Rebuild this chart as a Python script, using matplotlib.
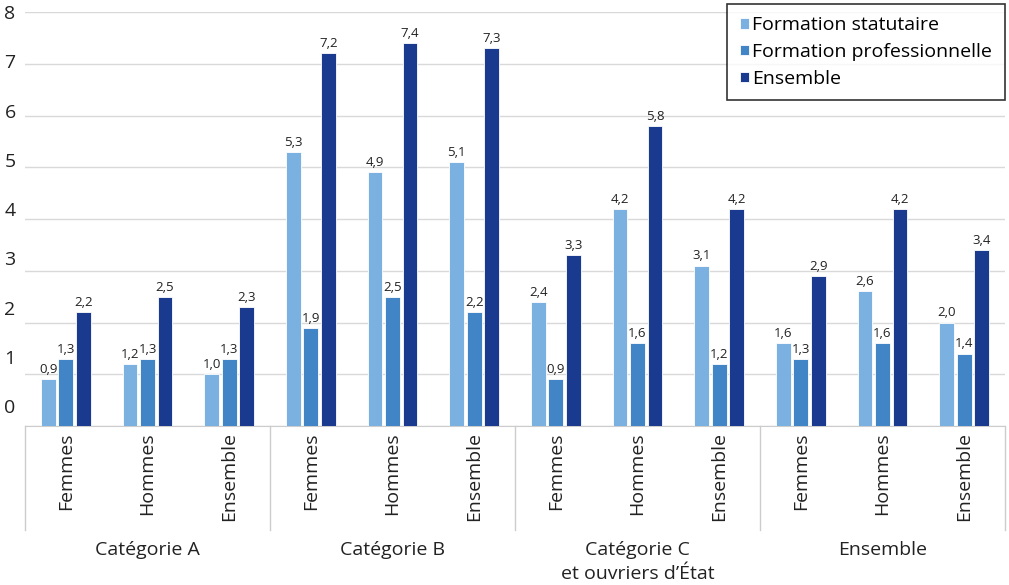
import matplotlib
matplotlib.use("Agg")
import matplotlib.pyplot as plt
import numpy as np

plt.rcParams['font.family'] = ['Open Sans', 'DejaVu Sans']

groups = ['Catégorie A', 'Catégorie B', 'Catégorie C\net ouvriers d\u2019État', 'Ensemble']
subgroups = ['Femmes', 'Hommes', 'Ensemble']
series = ['Formation statutaire', 'Formation professionnelle', 'Ensemble']

statutaire = [0.9, 1.2, 1.0, 5.3, 4.9, 5.1, 2.4, 4.2, 3.1, 1.6, 2.6, 2.0]
professionnelle = [1.3, 1.3, 1.3, 1.9, 2.5, 2.2, 0.9, 1.6, 1.2, 1.3, 1.6, 1.4]
ensemble = [2.2, 2.5, 2.3, 7.2, 7.4, 7.3, 3.3, 5.8, 4.2, 2.9, 4.2, 3.4]
yticks = list(range(0, 9))

colors = ['#7bb1e0', '#4285c6', '#1a3a8f']

fig = plt.figure(figsize=(10.09, 5.85), dpi=100)
ax = fig.add_axes([25 / 1009, (585 - 426) / 585, 980 / 1009, 414 / 585])

x = np.arange(len(statutaire))
width = 0.18
step = 0.215
for i, (vals, col, name) in enumerate(zip([statutaire, professionnelle, ensemble], colors, series)):
    pos = x + (i - 1) * step
    ax.bar(pos, vals, width, color=col, edgecolor='white', linewidth=0.6, label=name, zorder=3)
    for p, v in zip(pos, vals):
        ax.text(p, v + 0.06, f'{v:.1f}'.replace('.', ','), ha='center', va='bottom',
                fontsize=9.5, color='#222222', zorder=4)

ax.set_xlim(-0.5, len(x) - 0.5)
ax.set_ylim(0, 8)
ax.set_yticks(yticks)
ax.yaxis.grid(True, color='#d9d9d9', linewidth=1)
ax.set_axisbelow(True)
ax.tick_params(axis='y', length=0, labelleft=False)
ax.set_xticks([])
for s in ['top', 'right', 'left']:
    ax.spines[s].set_visible(False)
ax.spines['bottom'].set_color('#cccccc')

# y labels drift upward relative to gridlines, as in the original export
ytr = ax.get_yaxis_transform()
for v in yticks:
    ax.text(-0.021, 0.348 + v * 0.9515, str(v), transform=ytr, ha='left', va='center',
            fontsize=14, color='#222222')

tr = ax.get_xaxis_transform()
for i, xi in enumerate(x):
    ax.text(xi, -0.015, subgroups[i % 3], rotation=90, ha='center', va='top',
            fontsize=14, transform=tr, color='#222222')
for g in range(len(groups) + 1):
    ax.plot([g * 3 - 0.5, g * 3 - 0.5], [0, -0.252], transform=tr, color='#cccccc',
            linewidth=1, clip_on=False)
for g, name in enumerate(groups):
    ax.text(g * 3 + 1, -0.278, name, ha='center', va='top', fontsize=14,
            transform=tr, color='#222222', linespacing=1.4)

leg = ax.legend(loc='upper right', bbox_to_anchor=(1.0, 1.02), fontsize=14, frameon=True,
                fancybox=False, edgecolor='black', handlelength=0.45, handleheight=0.45,
                handletextpad=0.2, borderpad=0.65, labelspacing=0.45, borderaxespad=0)
leg.get_frame().set_linewidth(1.2)

fig.savefig('out.png', dpi=100)
